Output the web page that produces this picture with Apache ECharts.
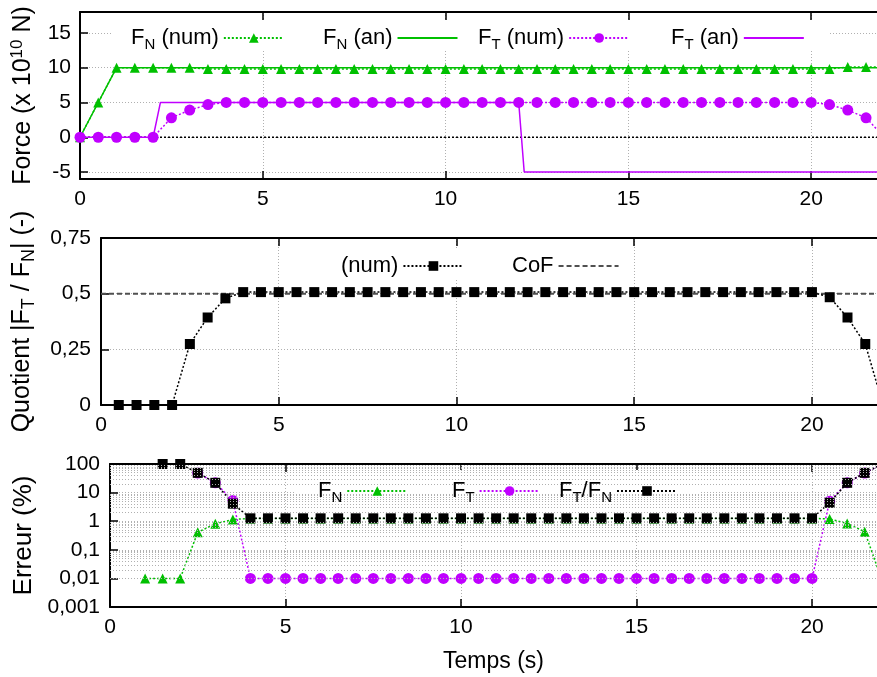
<!DOCTYPE html>
<html><head><meta charset="utf-8">
<style>html,body{margin:0;padding:0;background:#fff}#c{width:877px;height:677px}</style>
<script src="https://cdn.jsdelivr.net/npm/echarts@6/dist/echarts.min.js"></script>
</head><body><div id="c"></div>
<script>
// ---------- DATA ----------
// Panel 1: forces (x 1e10 N)
const tTop = [0,0.5,1,1.5,2,2.5,3,3.5,4,4.5,5,5.5,6,6.5,7,7.5,8,8.5,9,9.5,10,10.5,11,11.5,12,12.5,13,13.5,14,14.5,15,15.5,16,16.5,17,17.5,18,18.5,19,19.5,20,20.5,21,21.5,22];
const fnNum = [0,5,10,10,10,10,10,9.8,9.8,9.8,9.8,9.8,9.8,9.8,9.8,9.8,9.8,9.8,9.8,9.8,9.8,9.8,9.8,9.8,9.8,9.8,9.8,9.8,9.8,9.8,9.8,9.8,9.8,9.8,9.8,9.8,9.8,9.8,9.8,9.8,9.8,9.8,10.1,10.1,10.1];
const ftNum = [0,0,0,0,0,2.8,3.9,4.7,5,5,5,5,5,5,5,5,5,5,5,5,5,5,5,5,5,5,5,5,5,5,5,5,5,5,5,5,5,5,5,5,5,4.7,3.9,2.8,0];
const fnAnT = [0,1,22];
const fnAn = [0,10,10];
const ftAnT = [0,2,2.2,12,12.15,22];
const ftAn = [0,0,5,5,-5,-5];
const zeroT = [0,22];
const zeroV = [0,0];
// Panel 2: quotient |FT/FN|
const tRatio = [0.5,1,1.5,2,2.5,3,3.5,4,4.5,5,5.5,6,6.5,7,7.5,8,8.5,9,9.5,10,10.5,11,11.5,12,12.5,13,13.5,14,14.5,15,15.5,16,16.5,17,17.5,18,18.5,19,19.5,20,20.5,21,21.5,22];
const ratioNum = [0,0,0,0,0.274,0.393,0.479,0.507,0.507,0.507,0.507,0.507,0.507,0.507,0.507,0.507,0.507,0.507,0.507,0.507,0.507,0.507,0.507,0.507,0.507,0.507,0.507,0.507,0.507,0.507,0.507,0.507,0.507,0.507,0.507,0.507,0.507,0.507,0.507,0.507,0.484,0.393,0.274,0];
const cofT = [0,22];
const cofV = [0.5,0.5];
// Panel 3: errors (%)
const tErrFn = [1,1.5,2,2.5,3,3.5,4,4.5,5,5.5,6,6.5,7,7.5,8,8.5,9,9.5,10,10.5,11,11.5,12,12.5,13,13.5,14,14.5,15,15.5,16,16.5,17,17.5,18,18.5,19,19.5,20,20.5,21,21.5,22];
const errFn = [0.01,0.01,0.01,0.41,0.81,1.15,1.25,1.25,1.25,1.25,1.25,1.25,1.25,1.25,1.25,1.25,1.25,1.25,1.25,1.25,1.25,1.25,1.25,1.25,1.25,1.25,1.25,1.25,1.25,1.25,1.25,1.25,1.25,1.25,1.25,1.25,1.25,1.25,1.25,1.2,0.83,0.43,0.008];
const tErrFt = [2.5,3,3.5,4,4.5,5,5.5,6,6.5,7,7.5,8,8.5,9,9.5,10,10.5,11,11.5,12,12.5,13,13.5,14,14.5,15,15.5,16,16.5,17,17.5,18,18.5,19,19.5,20,20.5,21,21.5,22];
const errFt = [48,22,5.3,0.01,0.01,0.01,0.01,0.01,0.01,0.01,0.01,0.01,0.01,0.01,0.01,0.01,0.01,0.01,0.01,0.01,0.01,0.01,0.01,0.01,0.01,0.01,0.01,0.01,0.01,0.01,0.01,0.01,0.01,0.01,0.01,0.01,5.0,22,48,100];
const tErrRatio = [1.5,2,2.5,3,3.5,4,4.5,5,5.5,6,6.5,7,7.5,8,8.5,9,9.5,10,10.5,11,11.5,12,12.5,13,13.5,14,14.5,15,15.5,16,16.5,17,17.5,18,18.5,19,19.5,20,20.5,21,21.5,22];
const errRatio = [100,100,49,22,4.1,1.26,1.26,1.26,1.26,1.26,1.26,1.26,1.26,1.26,1.26,1.26,1.26,1.26,1.26,1.26,1.26,1.26,1.26,1.26,1.26,1.26,1.26,1.26,1.26,1.26,1.26,1.26,1.26,1.26,1.26,1.26,1.26,1.26,4.4,22,49,100];
// tick labels
const xTicks = [0,5,10,15,20];
const forceTicks = [-5,0,5,10,15];
const minorLog = [0.002,0.003,0.004,0.005,0.006,0.007,0.008,0.009,0.02,0.03,0.04,0.05,0.06,0.07,0.08,0.09,0.2,0.3,0.4,0.5,0.6,0.7,0.8,0.9,2,3,4,5,6,7,8,9,20,30,40,50,60,70,80,90];

// ---------- STYLE ----------
const FONT = '"Liberation Sans", Arial, Helvetica, sans-serif';
const GREEN = '#00c000', PURPLE = '#c000ff', BLACK = '#000000', GREY = '#505050';
const zip = (xs, ys) => xs.map((x, i) => [x, ys[i]]);
const comma = v => String(+Number(v).toPrecision(6)).replace('.', ',');

const gridLine = {show: true, lineStyle: {color: '#b0b0b0', type: [1, 2], width: 1}};
const tickStyle = {inside: true, length: 8, lineStyle: {color: '#000', width: 1.5}};
const axLine = {show: true, onZero: false, lineStyle: {color: '#000', width: 2}};
const labelStyle = {fontSize: 21, color: '#000', fontFamily: FONT};
const xMax = [21.8, 21.83, 21.85];

function xAx(g, extra) {
  return Object.assign({
    type: 'value', gridIndex: g, min: 0, max: xMax[g], interval: 5,
    axisLine: axLine, axisTick: Object.assign({customValues: xTicks}, tickStyle),
    axisLabel: Object.assign({margin: 10, customValues: xTicks}, labelStyle),
    splitLine: gridLine
  }, extra || {});
}
function xTop(g) {
  return {type: 'value', gridIndex: g, position: 'top', min: 0, max: xMax[g], interval: 5,
    axisLine: axLine, axisTick: Object.assign({customValues: xTicks}, tickStyle),
    axisLabel: {show: false}, splitLine: {show: false}};
}

const richLegend = {
  a: {fontSize: 22, fontFamily: FONT, color: '#000'},
  s: {fontSize: 15, fontFamily: FONT, color: '#000', padding: [14, 0, 0, 0]}
};
const legendText = {
  'FN (num)': '{a|F}{s|N}{a| (num)}',
  'FN (an)': '{a|F}{s|N}{a| (an)}',
  'FT (num)': '{a|F}{s|T}{a| (num)}',
  'FT (an)': '{a|F}{s|T}{a| (an)}',
  '(num)': '{a|(num)}',
  'CoF': '{a|CoF}',
  'FN': '{a|F}{s|N}',
  'FT': '{a|F}{s|T}',
  'FT/FN': '{a|F}{s|T}{a|/F}{s|N}'
};
function leg(name, left, top, noSymbol) {
  const l = {
    data: [name], left: left, top: top, align: 'right', padding: 0,
    itemWidth: 60, itemHeight: 12, itemGap: 0, selectedMode: false, z: 10,
    formatter: n => legendText[n],
    textStyle: {rich: richLegend}
  };
  if (noSymbol) l.itemStyle = {opacity: 0};
  return l;
}

function lineSeries(name, xi, xs, ys, color, opts) {
  return Object.assign({
    name: name, type: 'line', xAxisIndex: xi, yAxisIndex: xi,
    data: zip(xs, ys), animation: false, clip: true,
    lineStyle: {color: color, width: 1.5, type: [2, 2]},
    itemStyle: {color: color},
    symbol: 'none', symbolSize: 9, showSymbol: true
  }, opts || {});
}

const option = {
  backgroundColor: '#fff',
  animation: false,
  grid: [
    {left: 80, top: 12, right: 0, height: 167},
    {left: 101, top: 238, right: 0, height: 167},
    {left: 110, top: 464, right: 0, height: 143}
  ],
  xAxis: [
    xAx(0), xAx(1),
    xAx(2, {name: 'Temps (s)', nameLocation: 'middle', nameGap: 43,
      nameTextStyle: {fontSize: 23, color: '#000', fontFamily: FONT}}),
    xTop(0), xTop(1), xTop(2)
  ],
  yAxis: [
    {type: 'value', gridIndex: 0, min: -6, max: 18,
      axisLine: axLine,
      axisTick: Object.assign({customValues: forceTicks}, tickStyle),
      axisLabel: Object.assign({margin: 9, customValues: forceTicks}, labelStyle),
      splitLine: gridLine,
      name: '{a|Force (x 10}{p|10}{a| N)}', nameLocation: 'middle', nameGap: 42,
      nameTextStyle: {rich: {
        a: {fontSize: 25, fontFamily: FONT, color: '#000'},
        p: {fontSize: 17, fontFamily: FONT, color: '#000', padding: [0, 0, 12, 0]}
      }}},
    {type: 'value', gridIndex: 1, min: 0, max: 0.75, interval: 0.25,
      axisLine: axLine, axisTick: tickStyle,
      axisLabel: Object.assign({margin: 10, formatter: comma}, labelStyle),
      splitLine: gridLine,
      name: '{a|Quotient |F}{s|T}{a| / F}{s|N}{a|| (-)}', nameLocation: 'middle', nameGap: 63,
      nameTextStyle: {rich: {
        a: {fontSize: 25, fontFamily: FONT, color: '#000'},
        s: {fontSize: 18, fontFamily: FONT, color: '#000', padding: [13, 0, 0, 0]}
      }}},
    {type: 'log', logBase: 10, gridIndex: 2, min: 0.001, max: 100,
      axisLine: axLine, axisTick: tickStyle,
      axisLabel: Object.assign({margin: 10, formatter: comma}, labelStyle),
      splitLine: gridLine,
      name: 'Erreur (%)', nameLocation: 'middle', nameGap: 70,
      nameTextStyle: {fontSize: 26, color: '#000', fontFamily: FONT}}
  ],
  legend: [
    leg('FN (num)', 131, 27), leg('FN (an)', 323, 27, true), leg('FT (num)', 478, 27), leg('FT (an)', 671, 27, true),
    leg('(num)', 341, 255), leg('CoF', 512, 255, true),
    leg('FN', 318, 480), leg('FT', 452, 480), leg('FT/FN', 559, 480)
  ],
  graphic: [
    {type: 'rect', shape: {x: 112, y: 21, width: 716, height: 30}, style: {fill: '#fff'}, z: 3, silent: true},
    {type: 'rect', shape: {x: 330, y: 249, width: 300, height: 30}, style: {fill: '#fff'}, z: 3, silent: true},
    {type: 'rect', shape: {x: 296, y: 470, width: 404, height: 40}, style: {fill: '#fff'}, z: 3, silent: true}
  ],
  series: [
    lineSeries('zero', 0, zeroT, zeroV, BLACK, {z: 1}),
    lineSeries('FN (num)', 0, tTop, fnNum, GREEN, {symbol: 'triangle', symbolSize: 10}),
    lineSeries('FN (an)', 0, fnAnT, fnAn, GREEN, {lineStyle: {color: GREEN, width: 1.5, type: 'solid'}}),
    lineSeries('FT (num)', 0, tTop, ftNum, PURPLE, {symbol: 'circle', symbolSize: 11}),
    lineSeries('FT (an)', 0, ftAnT, ftAn, PURPLE, {lineStyle: {color: PURPLE, width: 1.5, type: 'solid'}}),

    lineSeries('CoF', 1, cofT, cofV, GREY, {lineStyle: {color: GREY, width: 2, type: [5, 3]}}),
    lineSeries('(num)', 1, tRatio, ratioNum, BLACK, {symbol: 'rect', symbolSize: 10}),

    {name: 'minorgrid', type: 'line', xAxisIndex: 2, yAxisIndex: 2, data: [], animation: false,
      markLine: {silent: true, symbol: ['none', 'none'], label: {show: false},
        lineStyle: {color: '#b0b0b0', type: [1, 2], width: 1},
        data: minorLog.map(v => ({yAxis: v}))}},
    lineSeries('FN', 2, tErrFn, errFn, GREEN, {symbol: 'triangle', symbolSize: 10}),
    lineSeries('FT', 2, tErrFt, errFt, PURPLE, {symbol: 'circle', symbolSize: 11}),
    lineSeries('FT/FN', 2, tErrRatio, errRatio, BLACK, {symbol: 'rect', symbolSize: 10})
  ]
};

const chart = echarts.init(document.getElementById('c'), null, {renderer: 'canvas'});
chart.setOption(option);
</script>
</body></html>
